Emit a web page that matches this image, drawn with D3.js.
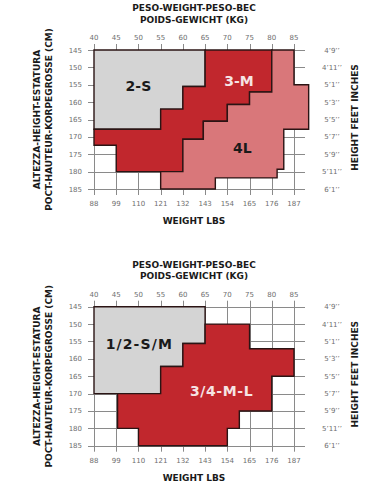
<!DOCTYPE html>
<html><head><meta charset="utf-8">
<script src="https://cdn.jsdelivr.net/npm/d3@7"></script>
<style>
html,body{margin:0;padding:0;background:#fff;}
svg{display:block;font-family:"DejaVu Sans",Verdana,sans-serif;}
</style></head>
<body>
<svg id="c" width="382" height="492"></svg>
<script>
// ---- data ----
const kgTicks = [40,45,50,55,60,65,70,75,80,85];
const lbsTicks = ["88","99","110","121","132","143","154","165","176","187"];
const cmTicks = [145,150,155,160,165,170,175,180,185];
const feetTicks = ["4’9’’","4’11’’","5’1’’","5’3’’","5’5’’","5’7’’","5’9’’","5’11’’","6’1’’"];

// Size regions as [kg, cm] vertices
const top2S = [[40,145],[65,145],[65,155.5],[60,155.5],[60,162],[55,162],[55,167.8],[40,167.8]];
const top3M = [[65,145],[80,145],[80,157.1],[75,157.1],[75,160.7],[70,160.7],[70,165.5],[64.6,165.5],[64.6,170.7],[60,170.7],[60,180],[45,180],[45,172.4],[40,172.4],[40,167.8],[55,167.8],[55,162],[60,162],[60,155.5],[65,155.5]];
const top4L = [[80,145],[85,145],[85,155],[88.3,155],[88.3,167.8],[82.7,167.8],[82.7,179.3],[81.2,179.3],[81.2,181.8],[67.3,181.8],[67.3,185],[55,185],[55,180],[60,180],[60,170.7],[64.6,170.7],[64.6,165.5],[70,165.5],[70,160.7],[75,160.7],[75,157.1],[80,157.1]];
const botSM = [[40,145],[65,145],[65,155.6],[60,155.6],[60,162.2],[55,162.2],[55,170],[40,170]];
const botML = [[65,150],[75,150],[75,157.1],[85,157.1],[85,165],[80,165],[80,175],[72.7,175],[72.7,180],[70,180],[70,185],[50,185],[50,180],[45.3,180],[45.3,170],[55,170],[55,162.2],[60,162.2],[60,155.6],[65,155.6]];

const topRegions = [
  {pts: top2S, label: "2-S", at: [50, 155.5], fill: "#d4d4d4", text: "#1a1a1a", ls: 0},
  {pts: top3M, label: "3-M", at: [72.6, 154], fill: "#c1272d", text: "#f6e4e4", ls: 0},
  {pts: top4L, label: "4L", at: [73.4, 173.3], fill: "#d9777a", text: "#1a1a1a", ls: 0}
];
const botRegions = [
  {pts: botSM, label: "1/2-S/M", at: [50.2, 155.8], fill: "#d4d4d4", text: "#1a1a1a", ls: 1.1},
  {pts: botML, label: "3/4-M-L", at: [68.7, 169.2], fill: "#c1272d", text: "#f6e4e4", ls: 0.6}
];

const svg = d3.select("#c");

function drawChart(top, regions) {
  const y0 = top;
  const x = d3.scaleLinear().domain([40,85]).range([94,294]);
  const y = d3.scaleLinear().domain([145,185]).range([y0+50, y0+189]);
  const g = svg.append("g");

  // titles
  g.append("text").attr("x",194).attr("y",y0+11).attr("text-anchor","middle")
    .attr("font-size",9).attr("font-weight","bold").attr("fill","#1a1a1a").text("PESO-WEIGHT-PESO-BEC");
  g.append("text").attr("x",194).attr("y",y0+22.5).attr("text-anchor","middle")
    .attr("font-size",9).attr("font-weight","bold").attr("fill","#1a1a1a").text("POIDS-GEWICHT (KG)");

  // grid
  const grid = g.append("g").attr("stroke","#8a8a8a").attr("stroke-width",1);
  kgTicks.forEach(k => {
    grid.append("line").attr("x1",Math.round(x(k))+0.5).attr("x2",Math.round(x(k))+0.5)
      .attr("y1",y(145)-6).attr("y2",y(185)+6);
  });
  cmTicks.forEach(c => {
    grid.append("line").attr("x1",88).attr("x2",305)
      .attr("y1",Math.round(y(c))+0.5).attr("y2",Math.round(y(c))+0.5);
  });

  // regions
  const line = d3.line().x(d=>x(d[0])).y(d=>y(d[1]));
  regions.forEach(r => {
    g.append("path").attr("d", line(r.pts)+"Z").attr("fill",r.fill)
      .attr("stroke","#2b1414").attr("stroke-width",1.4).attr("stroke-linejoin","miter");
  });
  regions.forEach(r => {
    g.append("text").attr("x",x(r.at[0])).attr("y",y(r.at[1])).attr("text-anchor","middle")
      .attr("dominant-baseline","central").attr("font-size",14).attr("font-weight","bold")
      .attr("letter-spacing",r.ls).attr("fill",r.text).text(r.label);
  });

  // axes labels
  const tk = g.append("g").attr("font-size",7).attr("fill","#6e6e6e");
  kgTicks.forEach(k => {
    tk.append("text").attr("x",x(k)).attr("y",y0+40).attr("text-anchor","middle").text(k);
  });
  lbsTicks.forEach((l,i) => {
    tk.append("text").attr("x",x(kgTicks[i])).attr("y",y(185)+17).attr("text-anchor","middle").text(l);
  });
  cmTicks.forEach(c => {
    tk.append("text").attr("x",82).attr("y",y(c)+2.5).attr("text-anchor","end").text(c);
  });
  feetTicks.forEach((f,i) => {
    tk.append("text").attr("x",332).attr("y",y(cmTicks[i])+2.5).attr("text-anchor","middle").text(f);
  });

  const cy = (y(145)+y(185))/2;
  g.append("text").attr("transform",`translate(39.5,${cy}) rotate(-90)`).attr("text-anchor","middle")
    .attr("font-size",9).attr("font-weight","bold").attr("fill","#1a1a1a").text("ALTEZZA-HEIGHT-ESTATURA");
  g.append("text").attr("transform",`translate(52,${cy}) rotate(-90)`).attr("text-anchor","middle")
    .attr("font-size",9).attr("font-weight","bold").attr("fill","#1a1a1a").text("POCT-HAUTEUR-KORPEGROSSE (CM)");
  g.append("text").attr("transform",`translate(357.5,${cy-2}) rotate(-90)`).attr("text-anchor","middle")
    .attr("font-size",9).attr("font-weight","bold").attr("fill","#1a1a1a").text("HEIGHT FEET INCHES");
  g.append("text").attr("x",194).attr("y",y(185)+35).attr("text-anchor","middle")
    .attr("font-size",9).attr("font-weight","bold").attr("fill","#1a1a1a").text("WEIGHT LBS");
}

drawChart(0, topRegions);
drawChart(256.7, botRegions);
</script>
</body></html>
